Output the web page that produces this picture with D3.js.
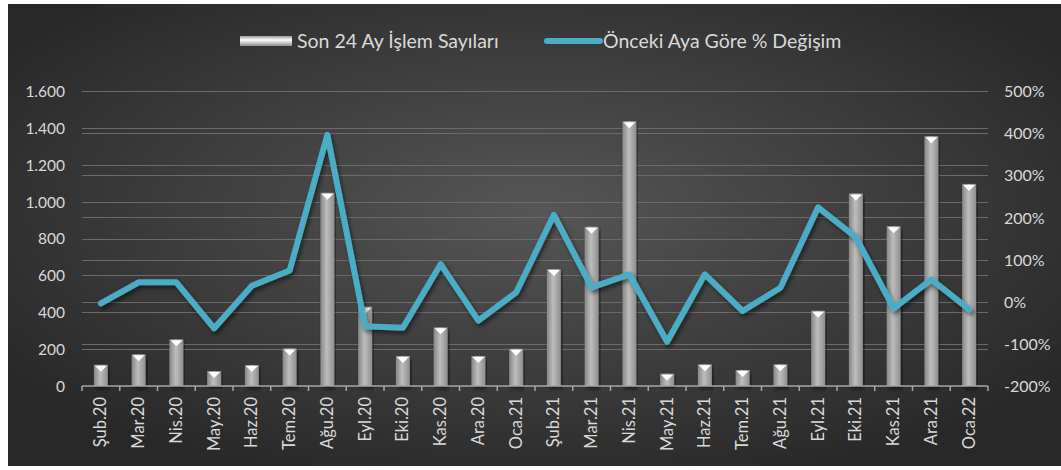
<!DOCTYPE html>
<html lang="tr">
<head>
<meta charset="UTF-8" />
<title>İşlem Sayıları</title>
<style>
  body { margin: 0; background: #fff; }
  svg text { font-family: Lato, "Open Sans", sans-serif; fill: #d9d9d9; }
</style>
</head>
<body>
<div id="chart"></div>
<script src="https://d3js.org/d3.v7.min.js"></script>
<script>
// months (x categories)
const months = ["Şub.20","Mar.20","Nis.20","May.20","Haz.20","Tem.20","Ağu.20","Eyl.20","Eki.20","Kas.20","Ara.20","Oca.21",
                "Şub.21","Mar.21","Nis.21","May.21","Haz.21","Tem.21","Ağu.21","Eyl.21","Eki.21","Kas.21","Ara.21","Oca.22"];
// Son 24 Ay İşlem Sayıları
const counts = [115,172,253,81,114,204,1048,430,163,318,163,202,634,864,1436,67,118,87,118,408,1044,867,1355,1096];
// Önceki Aya Göre % Değişim
const pctChange = [-0.04,0.46,0.46,-0.63,0.38,0.74,3.96,-0.58,-0.62,0.89,-0.45,0.22,2.06,0.34,0.65,-0.95,0.65,-0.22,0.33,2.24,1.53,-0.16,0.53,-0.18];
const leftTicks = [0,200,400,600,800,1000,1200,1400,1600];
const rightTicks = [-2,-1,0,1,2,3,4,5];
const seriesNames = ["Son 24 Ay İşlem Sayıları", "Önceki Aya Göre % Değişim"];

const W = 1061, H = 470;
const plot = {left: 82, right: 988, top: 91, bottom: 386};

const svg = d3.select("#chart").append("svg")
    .attr("width", W).attr("height", H);

const defs = svg.append("defs");
const bg = defs.append("radialGradient").attr("id", "bg")
    .attr("cx", "50%").attr("cy", "45%").attr("r", "62%");
bg.append("stop").attr("offset", "0%").attr("stop-color", "#565656");
bg.append("stop").attr("offset", "100%").attr("stop-color", "#282828");

const barGrad = defs.append("linearGradient").attr("id", "barGrad")
    .attr("x1", "0%").attr("x2", "100%").attr("y1", "0%").attr("y2", "0%");
barGrad.append("stop").attr("offset", "0%").attr("stop-color", "#868686");
barGrad.append("stop").attr("offset", "45%").attr("stop-color", "#bdbdbd");
barGrad.append("stop").attr("offset", "100%").attr("stop-color", "#8e8e8e");

const legGrad = defs.append("linearGradient").attr("id", "legGrad")
    .attr("x1", "0%").attr("x2", "0%").attr("y1", "0%").attr("y2", "100%");
legGrad.append("stop").attr("offset", "0%").attr("stop-color", "#9a9a9a");
legGrad.append("stop").attr("offset", "40%").attr("stop-color", "#ffffff");
legGrad.append("stop").attr("offset", "100%").attr("stop-color", "#8c8c8c");

const shadow = defs.append("filter").attr("id", "shadow")
    .attr("x", "-10%").attr("y", "-10%").attr("width", "120%").attr("height", "130%");
shadow.append("feDropShadow").attr("dx", 2).attr("dy", 3)
    .attr("stdDeviation", 2).attr("flood-color", "#000").attr("flood-opacity", 0.5);

// background panel (white border on left, top and bottom)
svg.append("rect").attr("x", 8).attr("y", 4).attr("width", W - 8).attr("height", H - 8)
    .attr("fill", "url(#bg)");

// scales
const x = d3.scaleBand().domain(months).range([plot.left, plot.right])
    .paddingInner(0.63).paddingOuter(0.315);
const yL = d3.scaleLinear().domain([0, 1600]).range([plot.bottom, plot.top]);
const yR = d3.scaleLinear().domain([-2, 5]).range([plot.bottom, plot.top]);

const trLocale = d3.formatLocale({decimal: ",", thousands: ".", grouping: [3], currency: ["", ""]});
const fmtL = trLocale.format(",");
const fmtR = d => Math.round(d * 100) + "%";

// gridlines for both axes
const grid = svg.append("g").attr("stroke", "#6b6b6b").attr("stroke-width", 1);
leftTicks.filter(d => d > 0).forEach(d => {
  grid.append("line").attr("x1", plot.left).attr("x2", plot.right)
      .attr("y1", Math.round(yL(d)) + 0.5).attr("y2", Math.round(yL(d)) + 0.5);
});
rightTicks.filter(d => d > -2).forEach(d => {
  grid.append("line").attr("x1", plot.left).attr("x2", plot.right)
      .attr("y1", Math.round(yR(d)) + 0.5).attr("y2", Math.round(yR(d)) + 0.5);
});

// left axis
const axL = svg.append("g").attr("transform", `translate(${plot.left - 17},0)`)
    .call(d3.axisLeft(yL).tickValues(leftTicks).tickFormat(fmtL).tickSize(0).tickPadding(0));
axL.select(".domain").remove();
axL.selectAll("text").attr("font-size", 15.5).attr("fill", "#d9d9d9").attr("dy", "0.35em");

// right axis
const axR = svg.append("g").attr("transform", `translate(${plot.right + 16},0)`)
    .call(d3.axisRight(yR).tickValues(rightTicks).tickFormat(fmtR).tickSize(0).tickPadding(0));
axR.select(".domain").remove();
axR.selectAll("text").attr("font-size", 16).attr("fill", "#d9d9d9").attr("dy", "0.35em");

// bars
const bw = x.bandwidth();
const bars = svg.append("g");
bars.selectAll("rect").data(counts).join("rect")
    .attr("x", (d, i) => x(months[i]))
    .attr("y", d => yL(d))
    .attr("width", bw)
    .attr("height", d => plot.bottom - yL(d))
    .attr("fill", "url(#barGrad)")
    .attr("filter", "url(#shadow)");
// bevel caps
bars.selectAll("path").data(counts).join("path")
    .attr("d", (d, i) => {
      const x0 = x(months[i]), y0 = yL(d);
      return `M${x0 + 1},${y0 + 1}L${x0 + bw - 1},${y0 + 1}L${x0 + bw / 2},${y0 + 7}Z`;
    })
    .attr("fill", "#ffffff");

// x axis line + ticks between categories
const step = x.step();
const axX = svg.append("g").attr("stroke", "#a6a6a6").attr("stroke-width", 1.5);
axX.append("line").attr("x1", plot.left).attr("x2", plot.right)
    .attr("y1", plot.bottom).attr("y2", plot.bottom);
d3.range(months.length + 1).forEach(i => {
  const tx = plot.left + i * step;
  axX.append("line").attr("x1", tx).attr("x2", tx)
      .attr("y1", plot.bottom).attr("y2", plot.bottom + 5);
});

svg.append("g").selectAll("text").data(months).join("text")
    .attr("transform", d => `translate(${x(d) + bw / 2 + 5.5},${plot.bottom + 11}) rotate(-90)`)
    .attr("text-anchor", "end")
    .attr("font-size", 16.5)
    .text(d => d);

// line series
const line = d3.line()
    .x((d, i) => x(months[i]) + bw / 2)
    .y(d => yR(d));
svg.append("path").datum(pctChange)
    .attr("d", line)
    .attr("fill", "none")
    .attr("stroke", "#4bacc6")
    .attr("stroke-width", 6)
    .attr("stroke-linejoin", "round")
    .attr("stroke-linecap", "round")
    .attr("filter", "url(#shadow)");

// legend
const leg = svg.append("g");
leg.append("rect").attr("x", 240).attr("y", 36).attr("width", 52).attr("height", 10)
    .attr("fill", "url(#legGrad)");
leg.append("text").attr("x", 297).attr("y", 48).attr("font-size", 19.5).text(seriesNames[0]);
leg.append("line").attr("x1", 547).attr("x2", 600).attr("y1", 41).attr("y2", 41)
    .attr("stroke", "#4bacc6").attr("stroke-width", 6).attr("stroke-linecap", "round");
leg.append("text").attr("x", 603).attr("y", 48).attr("font-size", 19.5).text(seriesNames[1]);
</script>
</body>
</html>
